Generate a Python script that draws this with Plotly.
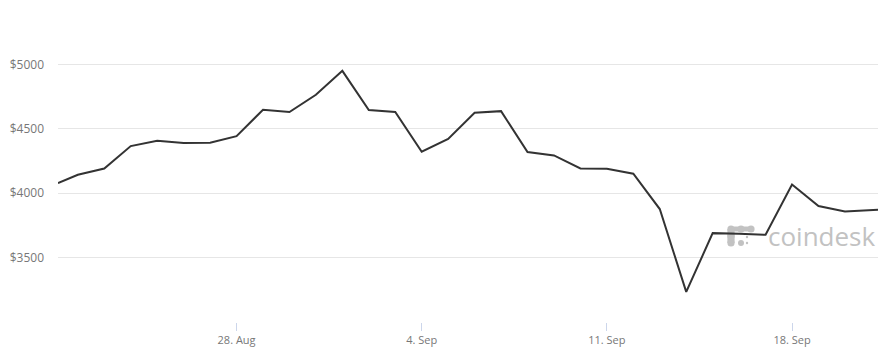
import plotly.graph_objects as go

dates = [
    "2017-08-21 06:00", "2017-08-22", "2017-08-23", "2017-08-24", "2017-08-25",
    "2017-08-26", "2017-08-27", "2017-08-28", "2017-08-29", "2017-08-30",
    "2017-08-31", "2017-09-01", "2017-09-02", "2017-09-03", "2017-09-04",
    "2017-09-05", "2017-09-06", "2017-09-07", "2017-09-08", "2017-09-09",
    "2017-09-10", "2017-09-11", "2017-09-12", "2017-09-13", "2017-09-14",
    "2017-09-15", "2017-09-16", "2017-09-17", "2017-09-18", "2017-09-19",
    "2017-09-20", "2017-09-21", "2017-09-21 06:00",
]
prices = [
    4078, 4143, 4192, 4366, 4407,
    4389, 4391, 4443, 4648, 4630,
    4764, 4950, 4645, 4630, 4322,
    4422, 4624, 4637, 4319, 4293,
    4192, 4189, 4151, 3877, 3234,
    3690, 3685, 3677, 4068, 3900,
    3858, 3868, 3872,
]
x_tick_vals = ["2017-08-28", "2017-09-04", "2017-09-11", "2017-09-18"]
x_tick_text = ["28. Aug", "4. Sep", "11. Sep", "18. Sep"]
y_tick_vals = [3500, 4000, 4500, 5000, 5500]
y_tick_text = ["$3500", "$4000", "$4500", "$5000", ""]

W, H = 884, 360
ML, MR, MT, MB = 58, 6, 0, 38
PW, PH = W - ML - MR, H - MT - MB


def px(x):
    return (x - ML) / PW


def py(y):
    return (H - MB - y) / PH


fig = go.Figure()
fig.add_trace(go.Scatter(
    x=dates, y=prices, mode="lines",
    line=dict(color="#333333", width=2),
    hoverinfo="skip", showlegend=False,
))

# watermark logo dots
logo_col = "#c2c2c2"
dots = [(731, 229, 3.6), (741, 229, 3.6), (751, 229, 3.6), (731, 236, 3.6),
        (731, 243, 3.6), (741, 243, 3.0), (747, 237, 1.2), (747, 243, 1.2)]
shapes = []
for (cx, cy, r) in dots:
    shapes.append(dict(type="circle", xref="paper", yref="paper",
                       x0=px(cx - r), x1=px(cx + r), y0=py(cy + r), y1=py(cy - r),
                       fillcolor=logo_col, line=dict(width=0), layer="below"))
shapes.append(dict(type="rect", xref="paper", yref="paper",
                   x0=px(731), x1=px(751), y0=py(231.5), y1=py(226.5),
                   fillcolor=logo_col, line=dict(width=0), layer="below"))
shapes.append(dict(type="rect", xref="paper", yref="paper",
                   x0=px(727.4), x1=px(734.6), y0=py(243), y1=py(229),
                   fillcolor=logo_col, line=dict(width=0), layer="below"))

fig.update_layout(
    width=W, height=H,
    margin=dict(l=ML, r=MR, t=MT, b=MB),
    paper_bgcolor="white", plot_bgcolor="white",
    font=dict(family="Open Sans, Arial, sans-serif", size=11, color="#777777"),
    xaxis=dict(
        type="date",
        range=[dates[0], dates[-1]],
        tickvals=x_tick_vals, ticktext=x_tick_text,
        ticks="outside", ticklen=8, tickwidth=1, tickcolor="#ccd6eb",
        showgrid=False, zeroline=False, showline=False,
        tickfont=dict(size=11, color="#777777"),
    ),
    yaxis=dict(
        range=[3000, 5500],
        tickvals=y_tick_vals, ticktext=y_tick_text,
        showgrid=True, gridcolor="#e6e6e6", gridwidth=1,
        zeroline=False, showline=False, ticks="",
        ticklabelstandoff=13,
        tickfont=dict(size=12, color="#777777"),
    ),
    shapes=shapes,
    annotations=[dict(
        text="coindesk", xref="paper", yref="paper",
        x=px(878), y=py(236), xanchor="right", yanchor="middle",
        showarrow=False,
        font=dict(family="Open Sans, Arial, sans-serif", size=26, color="#c2c2c2"),
    )],
)

fig.write_html("out.html")
